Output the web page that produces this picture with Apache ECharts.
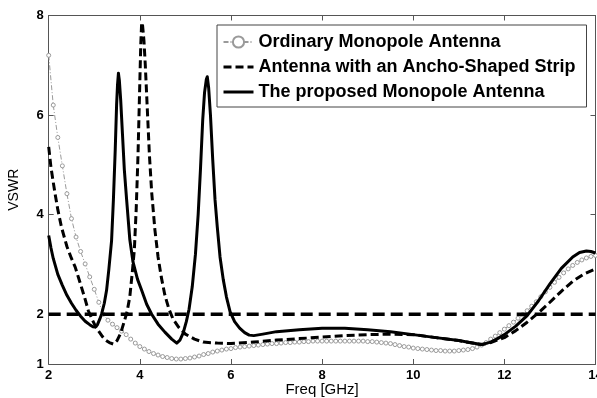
<!DOCTYPE html>
<html><head><meta charset="utf-8">
<script src="https://cdn.jsdelivr.net/npm/echarts@6/dist/echarts.min.js"></script>
<style>html,body{margin:0;padding:0;background:#fff}#c{width:597px;height:398px}</style>
</head><body><div id="c"></div>
<script>
// Ordinary Monopole Antenna (sampled every 0.1 GHz)
const ordFreq = [2.0,2.1,2.2,2.3,2.4,2.5,2.6,2.7,2.8,2.9,3.0,3.1,3.2,3.3,3.4,3.5,3.6,3.7,3.8,3.9,
 4.0,4.1,4.2,4.3,4.4,4.5,4.6,4.7,4.8,4.9,5.0,5.1,5.2,5.3,5.4,5.5,5.6,5.7,5.8,5.9,
 6.0,6.1,6.2,6.3,6.4,6.5,6.6,6.7,6.8,6.9,7.0,7.1,7.2,7.3,7.4,7.5,7.6,7.7,7.8,7.9,
 8.0,8.1,8.2,8.3,8.4,8.5,8.6,8.7,8.8,8.9,9.0,9.1,9.2,9.3,9.4,9.5,9.6,9.7,9.8,9.9,
 10.0,10.1,10.2,10.3,10.4,10.5,10.6,10.7,10.8,10.9,11.0,11.1,11.2,11.3,11.4,11.5,11.6,11.7,11.8,11.9,
 12.0,12.1,12.2,12.3,12.4,12.5,12.6,12.7,12.8,12.9,13.0,13.1,13.2,13.3,13.4,13.5,13.6,13.7,13.8,13.9,14.0];
const ordVswr = [7.2,6.2,5.55,4.98,4.42,3.92,3.55,3.26,3.01,2.75,2.50,2.24,2.00,1.88,1.80,1.73,1.66,1.59,1.50,1.42,
 1.35,1.30,1.25,1.21,1.18,1.15,1.13,1.11,1.10,1.10,1.11,1.12,1.14,1.16,1.19,1.21,1.24,1.26,1.28,1.30,
 1.31,1.33,1.34,1.35,1.36,1.37,1.38,1.39,1.40,1.41,1.41,1.42,1.43,1.43,1.44,1.44,1.45,1.45,1.46,1.46,
 1.46,1.46,1.46,1.46,1.46,1.46,1.46,1.46,1.46,1.46,1.45,1.45,1.44,1.43,1.42,1.41,1.39,1.37,1.35,1.34,
 1.32,1.31,1.30,1.29,1.28,1.27,1.27,1.26,1.26,1.26,1.27,1.28,1.29,1.31,1.34,1.38,1.43,1.50,1.56,1.63,
 1.70,1.77,1.84,1.92,1.99,2.07,2.16,2.25,2.35,2.45,2.54,2.64,2.74,2.83,2.91,2.98,3.04,3.09,3.13,3.16,3.18];

// Antenna with an Ancho-Shaped Strip
const anchoFreq = [2.0,2.05,2.1,2.14,2.2,2.28,2.4,2.5,2.58,2.7,2.8,2.87,2.95,3.02,3.09,3.18,3.25,3.33,3.42,3.5,
 3.58,3.66,3.72,3.78,3.83,3.88,3.92,3.96,3.99,4.02,4.04,4.06,4.09,4.12,4.16,4.21,4.26,4.33,4.4,4.47,
 4.55,4.64,4.73,4.85,5.0,5.2,5.39,5.7,6.0,6.5,7.0,7.5,8.0,8.5,9.0,9.5,10.0,10.5,11.0,11.3,
 11.5,11.7,12.0,12.25,12.5,12.75,13.0,13.25,13.5,13.75,14.0];
const anchoVswr = [5.36,4.95,4.65,4.42,4.1,3.75,3.36,3.12,2.95,2.6,2.3,2.07,1.9,1.77,1.67,1.55,1.48,1.43,1.40,1.47,
 1.62,1.86,2.05,2.35,2.8,3.3,4.1,5.2,6.3,7.4,7.86,7.8,7.5,7.0,6.2,5.2,4.45,3.7,3.15,2.75,
 2.38,2.1,1.9,1.74,1.6,1.5,1.44,1.42,1.41,1.44,1.48,1.51,1.54,1.57,1.59,1.6,1.59,1.53,1.47,1.42,
 1.39,1.43,1.53,1.67,1.84,2.03,2.24,2.46,2.66,2.81,2.91];

// The proposed Monopole Antenna
const propFreq = [2.0,2.05,2.1,2.2,2.3,2.4,2.5,2.6,2.7,2.8,2.9,2.97,3.02,3.07,3.12,3.16,3.22,3.27,3.32,3.38,
 3.42,3.46,3.49,3.51,3.53,3.55,3.58,3.62,3.66,3.71,3.78,3.85,3.95,4.04,4.15,4.26,4.4,4.55,4.7,4.81,
 4.88,4.95,5.02,5.08,5.15,5.22,5.28,5.33,5.38,5.42,5.46,5.48,5.51,5.55,5.6,5.65,5.7,5.76,5.83,5.9,
 5.98,6.08,6.19,6.3,6.4,6.5,6.7,7.0,7.5,8.0,8.5,9.0,9.5,10.0,10.5,11.0,11.3,11.5,11.7,11.85,
 12.0,12.25,12.5,12.75,13.0,13.25,13.5,13.65,13.8,13.9,14.0];
const propVswr = [3.58,3.33,3.12,2.8,2.58,2.38,2.22,2.08,1.96,1.86,1.79,1.75,1.74,1.79,1.90,2.0,2.22,2.48,2.9,3.48,
 4.3,5.3,6.2,6.6,6.84,6.7,6.3,5.6,4.9,4.3,3.5,3.05,2.7,2.48,2.2,2.0,1.8,1.64,1.5,1.42,
 1.48,1.62,1.85,2.1,2.55,3.2,4.0,4.9,5.9,6.45,6.72,6.77,6.55,6.0,5.1,4.3,3.75,3.15,2.7,2.35,
 2.05,1.85,1.72,1.63,1.58,1.57,1.6,1.65,1.69,1.72,1.72,1.69,1.65,1.59,1.53,1.47,1.42,1.39,1.44,1.51,
 1.59,1.76,1.97,2.27,2.61,2.92,3.15,3.24,3.27,3.26,3.23];

// VSWR = 2 reference line
const refFreq = [2, 14];
const refVswr = [2, 2];

const xTicks = [2,4,6,8,10,12,14];
const yTicks = [1,2,4,6,8];

const zip = (a,b) => a.map((v,i)=>[v,b[i]]);
const names = ['Ordinary Monopole Antenna','Antenna with an Ancho-Shaped Strip','The proposed Monopole Antenna'];

const axisCol = '#555';
const FF = 'Liberation Sans, Arial, sans-serif';
const lblFont = {fontFamily:FF, fontWeight:'bold', fontSize:13, color:'#000'};
const hideSym = {color:'rgba(0,0,0,0)', borderWidth:0, opacity:0};

const chart = echarts.init(document.getElementById('c'), null, {renderer:'canvas'});
chart.setOption({
  animation:false,
  backgroundColor:'#fff',
  grid:{left:48.7, right:1.5, top:15.5, bottom:34, containLabel:false, outerBoundsMode:'none'},
  legend:{
    orient:'vertical', left:217, top:25,
    data:[{name:names[0]},
          {name:names[1], itemStyle:hideSym, lineStyle:{width:3}},
          {name:names[2], itemStyle:hideSym, lineStyle:{width:3}}],
    backgroundColor:'#fff', borderColor:'#444', borderWidth:1,
    padding:[8,11,6,5], itemWidth:30, itemHeight:14, itemGap:7,
    textStyle:{fontFamily:FF, fontWeight:'bold', fontSize:18, color:'#000'}
  },
  xAxis:[{
    type:'value', min:2, max:14, interval:2,
    name:'Freq [GHz]', nameLocation:'middle', nameGap:18, nameMoveOverlap:false,
    nameTextStyle:{fontFamily:FF, fontSize:15, color:'#000'},
    axisLine:{show:true, lineStyle:{color:axisCol, width:1}},
    axisTick:{show:true, inside:true, length:5, lineStyle:{color:axisCol}},
    axisLabel:Object.assign({margin:5, customValues:xTicks}, lblFont),
    splitLine:{show:false}
  },{
    type:'value', position:'top', min:2, max:14, interval:2,
    axisLine:{show:true, onZero:false, lineStyle:{color:axisCol, width:1}},
    axisTick:{show:true, inside:true, length:5, lineStyle:{color:axisCol}},
    axisLabel:{show:false}, splitLine:{show:false}
  }],
  yAxis:[{
    type:'value', min:1, max:8,
    name:'VSWR', nameLocation:'middle', nameGap:28, nameMoveOverlap:false,
    nameTextStyle:{fontFamily:FF, fontSize:14, color:'#000'},
    axisLine:{show:true, lineStyle:{color:axisCol, width:1}},
    axisTick:{show:true, inside:true, length:5, customValues:yTicks, lineStyle:{color:axisCol}},
    axisLabel:Object.assign({margin:5, customValues:yTicks}, lblFont),
    splitLine:{show:false}
  },{
    type:'value', position:'right', min:1, max:8,
    axisLine:{show:true, onZero:false, lineStyle:{color:axisCol, width:1}},
    axisTick:{show:true, inside:true, length:5, customValues:yTicks, lineStyle:{color:axisCol}},
    axisLabel:{show:false}, splitLine:{show:false}
  }],
  series:[
    {
      name:names[0], type:'line', data:zip(ordFreq, ordVswr),
      symbol:'circle', symbolSize:4, showSymbol:true,
      itemStyle:{color:'#fff', borderColor:'#9a9a9a', borderWidth:1},
      lineStyle:{color:'#9a9a9a', width:1, type:[5,2,1,2]},
      color:'#9a9a9a', z:2
    },
    {
      name:names[1], type:'line', data:zip(anchoFreq, anchoVswr),
      symbol:'none', smooth:false,
      lineStyle:{color:'#000', width:3, type:[8,4], join:'round'},
      itemStyle:{color:'#000'}, z:3
    },
    {
      name:names[2], type:'line', data:zip(propFreq, propVswr),
      symbol:'none', smooth:false,
      lineStyle:{color:'#000', width:3, type:'solid', join:'round'},
      itemStyle:{color:'#000'}, z:4
    },
    {
      name:'ref', type:'line', data:zip(refFreq, refVswr),
      symbol:'none', silent:true,
      lineStyle:{color:'#000', width:3.5, type:[12,6]}, z:5
    }
  ]
});
</script></body></html>
